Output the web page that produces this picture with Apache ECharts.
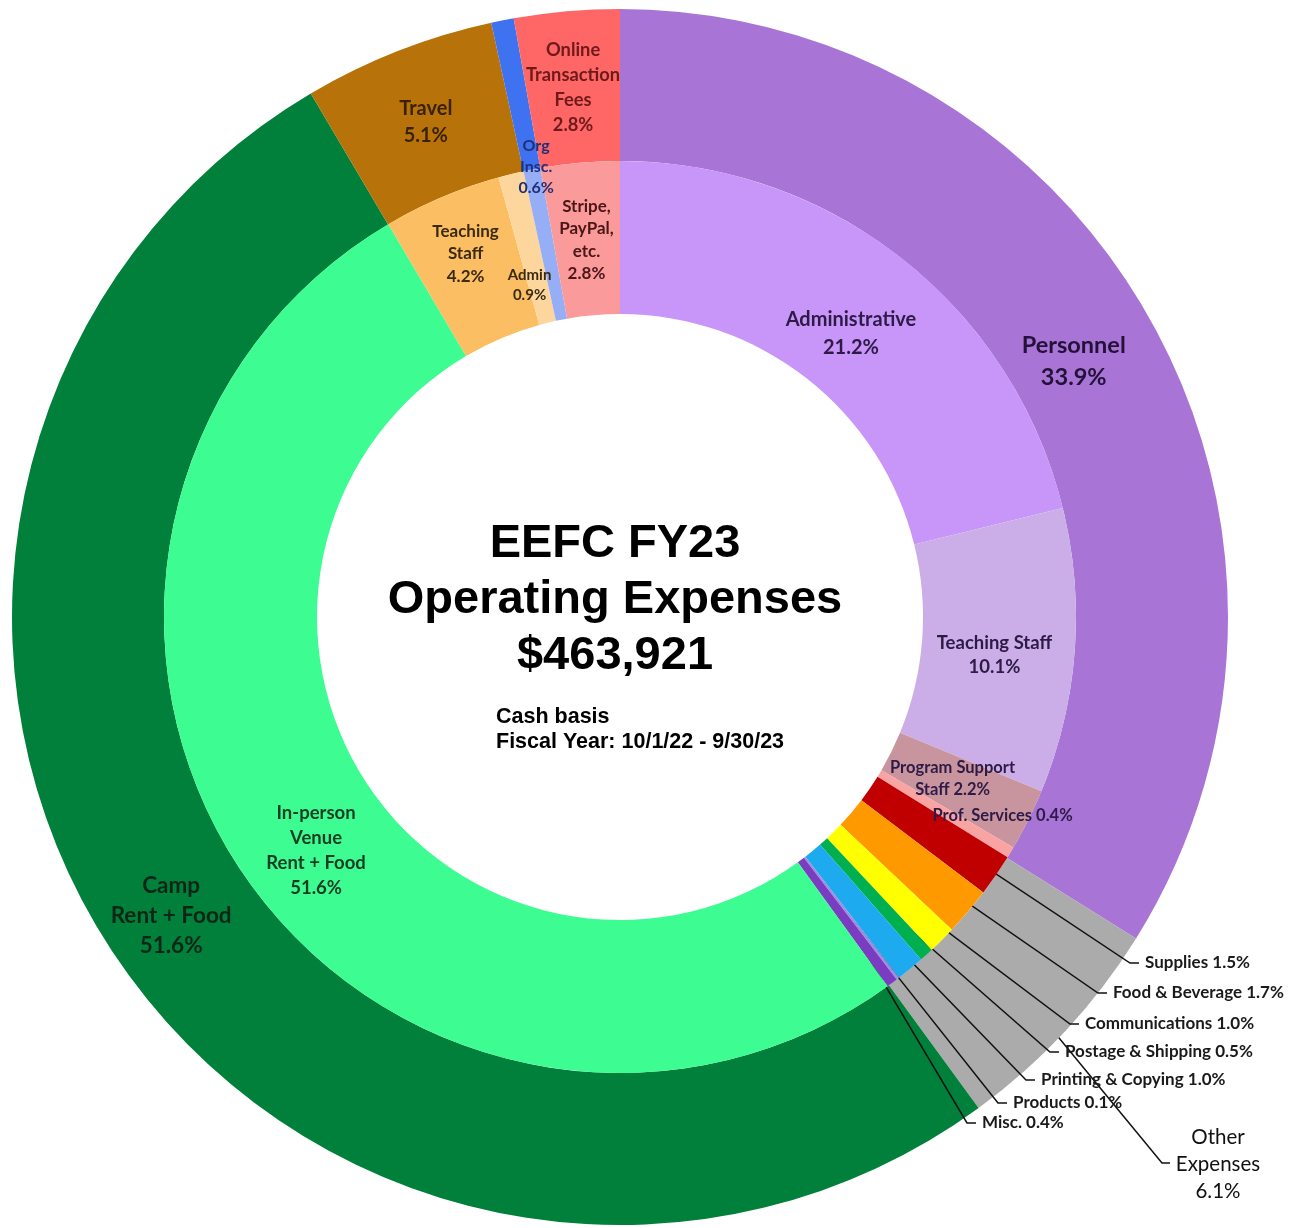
<!DOCTYPE html>
<html>
<head>
<meta charset="utf-8">
<title>EEFC FY23 Operating Expenses</title>
<script src="https://cdn.jsdelivr.net/npm/echarts@6/dist/echarts.min.js"></script>
<style>
  html, body { margin: 0; padding: 0; background: #fff; }
  #chart { width: 1292px; height: 1228px; }
</style>
</head>
<body>
<div id="chart"></div>
<script>
// outer ring: expense groups (percent of total)
const groupNames = ['Personnel', 'Other\nExpenses', 'Camp\nRent + Food', 'Travel', 'Org Insc.', 'Online\nTransaction\nFees'];
const groupPct = [33.9, 6.1, 51.6, 5.1, 0.6, 2.8];

// inner ring: line items, in the same order as the groups
const itemNames = [
  'Administrative', 'Teaching Staff', 'Program Support\nStaff', 'Prof. Services',
  'Supplies', 'Food & Beverage', 'Communications', 'Postage & Shipping',
  'Printing & Copying', 'Products', 'Misc.',
  'In-person\nVenue\nRent + Food',
  'Teaching\nStaff', 'Admin',
  'Org\nInsc.',
  'Stripe,\nPayPal,\netc.'
];
const itemPct = [21.2, 10.1, 2.2, 0.4, 1.5, 1.7, 1.0, 0.5, 1.0, 0.1, 0.4, 51.6, 4.2, 0.9, 0.6, 2.8];

const groupColors = ['#a874d5', '#ababab', '#00803a', '#b8720a', '#3f72f0', '#ff6666'];
const itemColors = [
  '#c895f9', '#cbaee8', '#c8949e', '#f9a3a3',
  '#c00000', '#ff9900', '#ffff00', '#00b050', '#1eaaee', '#9d8fe0', '#7a3dc2',
  '#3cfc92', '#fbbe62', '#fcd69c', '#95aef5', '#fa9a9a'
];

const CX = 620, CY = 617;
const R0 = 303, R1 = 456, R2 = 608;
const FONT = 'Lato';

// percent shown after the name on the same line
const inlinePct = new Set(['Program Support\nStaff', 'Prof. Services', 'Supplies', 'Food & Beverage',
  'Communications', 'Postage & Shipping', 'Printing & Copying', 'Products', 'Misc.']);
const labelText = (name, v) => name + (inlinePct.has(name) ? ' ' : '\n') + v.toFixed(1) + '%';

// label styles by inner index
const itemLabel = {
  0: { fontSize: 20, lineHeight: 28, color: '#2e1a47' },
  1: { fontSize: 18.5, lineHeight: 24, color: '#2e1a47' },
  2: { fontSize: 16.5, lineHeight: 22, color: '#2e1a47' },
  3: { fontSize: 16.5, lineHeight: 22, color: '#2e1a47' },
  11: { fontSize: 18.5, lineHeight: 25, color: '#173d22' },
  12: { fontSize: 17, lineHeight: 22.5, color: '#3a2a10' },
  13: { fontSize: 15, lineHeight: 20, color: '#3a2a10' },
  14: { fontSize: 16, lineHeight: 21, color: '#1f2f78' },
  15: { fontSize: 17, lineHeight: 22.5, color: '#4a1616' }
};
const groupLabel = {
  0: { fontSize: 23.5, lineHeight: 32, color: '#24113a' },
  2: { fontSize: 22.5, lineHeight: 30, color: '#0e2616' },
  3: { fontSize: 20, lineHeight: 27, color: '#3a2200' },
  5: { fontSize: 18.3, lineHeight: 25, color: '#6e1a1a' }
};

// nudges from the default mid-sector label spot
const itemShift = { 0: [-5, 18], 1: [-7, 9], 2: [-10, -8], 3: [55, 1], 11: [16, 24], 12: [-5, -11], 13: [1, 40], 14: [-10, -75], 15: [0, 4] };
const groupShift = { 0: [-14, 4], 2: [-2, 5], 3: [1, 3], 5: [0, 4] };

// leader-line labels for the "other" items: [text left x, y]
const otherLabelPos = { 4: [1145, 963], 5: [1113, 993], 6: [1085, 1024], 7: [1065, 1052], 8: [1041, 1080], 9: [1013, 1103], 10: [982, 1123] };

function midAngle(pcts, idx, pts) {
  if (pts && pts[0]) return Math.atan2(pts[0][1] - CY, pts[0][0] - CX);
  const total = pcts.reduce((a, b) => a + b, 0);
  let acc = 0;
  for (let i = 0; i < idx; i++) acc += pcts[i];
  const frac = (acc + pcts[idx] / 2) / total;
  return -Math.PI / 2 + frac * 2 * Math.PI;
}

const innerData = itemNames.map((n, i) => {
  const isOther = otherLabelPos[i] != null;
  const st = itemLabel[i];
  return {
    name: n,
    value: itemPct[i],
    itemStyle: { color: itemColors[i] },
    label: isOther
      ? { show: true, position: 'outside', fontSize: 17, color: '#1a1a1a' }
      : (st ? Object.assign({ show: true, position: 'inside' }, st) : { show: false }),
    labelLine: { show: isOther, lineStyle: { color: '#111', width: 1.5 } }
  };
});

const outerData = groupNames.map((n, i) => {
  const isOther = i === 1;
  const st = groupLabel[i];
  return {
    name: n,
    value: groupPct[i],
    itemStyle: { color: groupColors[i] },
    label: isOther
      ? { show: true, position: 'outside', fontSize: 20.5, lineHeight: 27, fontWeight: 'normal', color: '#111', align: 'center' }
      : (st ? Object.assign({ show: true, position: 'inside' }, st) : { show: false }),
    labelLine: { show: isOther, lineStyle: { color: '#111', width: 1.5 } }
  };
});

const chart = echarts.init(document.getElementById('chart'));
chart.setOption({
  backgroundColor: '#fff',
  animation: false,
  graphic: [
    {
      type: 'text', x: 615, y: 516,
      style: {
        text: 'EEFC FY23\nOperating Expenses\n$463,921',
        fill: '#000', fontSize: 47, fontWeight: 'bold', fontFamily: 'Liberation Sans',
        lineHeight: 56, textAlign: 'center', textVerticalAlign: 'top'
      }
    },
    {
      type: 'text', x: 496, y: 705,
      style: {
        text: 'Cash basis\nFiscal Year: 10/1/22 - 9/30/23',
        fill: '#000', fontSize: 21.5, fontWeight: 'bold', fontFamily: 'Liberation Sans',
        lineHeight: 25, textAlign: 'left', textVerticalAlign: 'top'
      }
    }
  ],
  series: [
    {
      name: 'Items',
      type: 'pie',
      z: 3,
      center: [CX, CY],
      radius: [R0, R1],
      startAngle: 90,
      clockwise: true,
      avoidLabelOverlap: false,
      emphasis: { disabled: true },
      label: {
        fontFamily: FONT, fontWeight: 'bold',
        formatter: p => labelText(p.name, p.value)
      },
      labelLayout: function (p) {
        const pos = otherLabelPos[p.dataIndex];
        if (pos) {
          const a = midAngle(itemPct, p.dataIndex, p.labelLinePoints);
          const rm = (R0 + R1) / 2 + 5;
          return {
            x: pos[0], y: pos[1], align: 'left', verticalAlign: 'middle',
            labelLinePoints: [
              [CX + rm * Math.cos(a), CY + rm * Math.sin(a)],
              [pos[0] - 15, pos[1]],
              [pos[0] - 6, pos[1]]
            ]
          };
        }
        const d = itemShift[p.dataIndex];
        return d ? { dx: d[0], dy: d[1] } : {};
      },
      data: innerData
    },
    {
      name: 'Groups',
      type: 'pie',
      z: 2,
      center: [CX, CY],
      radius: [R1, R2],
      startAngle: 90,
      clockwise: true,
      avoidLabelOverlap: false,
      emphasis: { disabled: true },
      label: {
        fontFamily: FONT, fontWeight: 'bold',
        formatter: p => labelText(p.name, p.value)
      },
      labelLayout: function (p) {
        if (p.dataIndex === 1) {
          const a = midAngle(groupPct, 1, p.labelLinePoints);
          const rm = (R1 + R2) / 2 + 4;
          return {
            x: 1218, y: 1164, align: 'center', verticalAlign: 'middle',
            labelLinePoints: [
              [CX + rm * Math.cos(a), CY + rm * Math.sin(a)],
              [1162, 1163],
              [1170, 1163]
            ]
          };
        }
        const d = groupShift[p.dataIndex];
        return d ? { dx: d[0], dy: d[1] } : {};
      },
      data: outerData
    }
  ]
});
window.addEventListener('resize', () => chart.resize());
</script>
</body>
</html>
